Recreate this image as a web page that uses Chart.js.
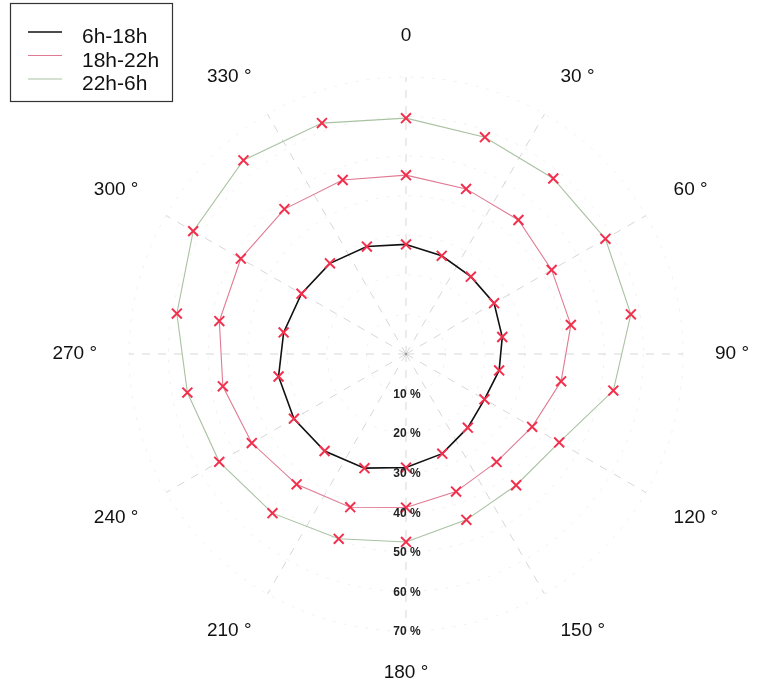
<!DOCTYPE html>
<html>
<head>
<meta charset="utf-8">
<script src="https://cdn.jsdelivr.net/npm/chart.js@4.4.3/dist/chart.umd.min.js"></script>
<style>
  html, body { margin: 0; padding: 0; background: #fff; }
  #wrap { width: 759px; height: 682px; position: relative; }
</style>
</head>
<body>
<div id="wrap"><canvas id="myChart"></canvas></div>
<script>
// direction labels, one every 30 degrees
const angleLabels = ['0', '30 °', '60 °', '90 °', '120 °', '150 °', '180 °', '210 °', '240 °', '270 °', '300 °', '330 °']
// measured directions: 0, 20, 40 ... 340 degrees
const directions = [0, 20, 40, 60, 80, 100, 120, 140, 160, 180, 200, 220, 240, 260, 280, 300, 320, 340]
const seriesNames = ['6h-18h', '18h-22h', '22h-6h']
const day = [27.7, 26.4, 25.5, 25.7, 24.7, 23.9, 22.9, 24.3, 26.8, 28.7, 30.7, 32.0, 32.7, 32.7, 31.4, 30.5, 29.9, 28.9]
const evening = [45.2, 44.4, 44.2, 42.5, 42.3, 39.8, 36.8, 35.6, 37.0, 38.8, 41.2, 43.0, 45.0, 47.0, 47.9, 48.2, 47.8, 46.8]
const night = [59.6, 58.3, 57.9, 58.2, 57.7, 53.2, 44.7, 43.3, 44.6, 47.5, 49.7, 52.5, 54.5, 56.1, 58.8, 62.1, 63.9, 62.1]
const tickValues = [10, 20, 30, 40, 50, 60, 70]

// the radar axis runs every 10 degrees so both 20 and 30 degree steps fit
const labels = []
for (let a = 0; a < 360; a += 10) {
  labels.push(a % 30 === 0 ? angleLabels[a / 30] : '')
}
function spread(values) {
  const out = labels.map(() => null)
  directions.forEach((d, i) => { out[d / 10] = values[i] })
  return out
}

const lineColors = ['#111111', '#e07a92', '#a9c2a2']
const markColor = '#f2304e'

const datasets = [day, evening, night].map((v, i) => ({
  label: seriesNames[i],
  data: spread(v),
  borderColor: lineColors[i],
  borderWidth: i === 0 ? 1.6 : 1.1,
  fill: false,
  spanGaps: true,
  pointStyle: 'crossRot',
  pointRadius: 7,
  pointBorderWidth: 2,
  pointBorderColor: markColor,
  pointBackgroundColor: markColor,
  pointHoverRadius: 7
}))

// radial tick labels, drawn downwards like the original
const tickText = {
  id: 'tickText',
  afterDatasetsDraw(chart) {
    const r = chart.scales.r
    const ctx = chart.ctx
    ctx.save()
    ctx.font = 'bold 12px "Liberation Sans", Arial, sans-serif'
    ctx.fillStyle = '#222'
    ctx.textAlign = 'center'
    ctx.textBaseline = 'middle'
    r.ticks.forEach(t => {
      if (!tickValues.includes(t.value)) return
      ctx.fillText(t.value + ' %', r.xCenter + 1, r.yCenter + r.getDistanceFromCenterForValue(t.value) + 1)
    })
    ctx.restore()
  }
}

// boxed legend in the top left corner
const boxLegend = {
  id: 'boxLegend',
  afterDraw(chart) {
    const ctx = chart.ctx
    ctx.save()
    ctx.strokeStyle = '#333'
    ctx.lineWidth = 1.2
    ctx.strokeRect(10.5, 3.5, 162, 98)
    ctx.font = '21px "Liberation Sans", Arial, sans-serif'
    ctx.textBaseline = 'alphabetic'
    chart.data.datasets.forEach((ds, i) => {
      const y = 32 + i * 23.5
      ctx.strokeStyle = ds.borderColor
      ctx.lineWidth = i === 0 ? 1.6 : 1.2
      ctx.beginPath()
      ctx.moveTo(28, y)
      ctx.lineTo(62, y)
      ctx.stroke()
      ctx.fillStyle = '#111'
      ctx.fillText(ds.label, 82, y + 11)
    })
    ctx.restore()
  }
}

const ctx = document.getElementById('myChart')
new Chart(ctx, {
  type: 'radar',
  data: { labels: labels, datasets: datasets },
  plugins: [tickText, boxLegend],
  options: {
    responsive: true,
    maintainAspectRatio: false,
    animation: false,
    layout: { padding: { left: 43, right: 0, top: 26, bottom: 0 } },
    plugins: { legend: { display: false }, tooltip: { enabled: false } },
    scales: {
      r: {
        min: 0,
        max: 70,
        ticks: { display: false, stepSize: 10 },
        grid: { circular: true, color: 'rgba(0,0,0,0.06)' },
        border: { dash: [3, 8] },
        angleLines: {
          color: (c) => (c.index % 3 === 0 ? 'rgba(0,0,0,0.16)' : 'transparent'),
          lineWidth: 1,
          borderDash: [8, 8]
        },
        pointLabels: {
          padding: 32,
          color: '#111',
          font: { family: '"Liberation Sans", Arial, sans-serif', size: 19, lineHeight: 1.0 }
        }
      }
    }
  }
})
</script>
</body>
</html>
